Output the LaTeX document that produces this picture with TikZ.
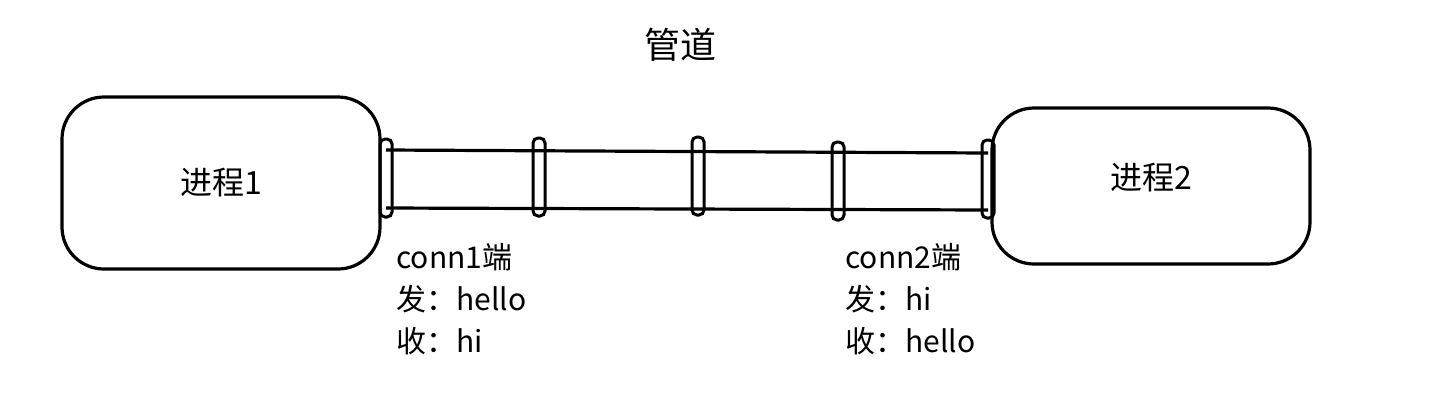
\documentclass[tikz,border=0pt]{standalone}
\usepackage{fontspec}
\setmainfont{Noto Sans CJK SC}
\usetikzlibrary{positioning}
\tikzset{
  procbox/.style={draw,line width=1.6pt,rounded corners=21pt,minimum width=159pt,minimum height=86pt,font=\fontsize{16}{18}\selectfont},
  ringbox/.style={draw,line width=1.5pt,rounded corners=2.5pt,minimum width=6pt,minimum height=39pt,inner sep=0pt},
  pipeline/.style={line width=1.6pt},
  endlabel/.style={anchor=north west,align=left,inner sep=0pt,font=\fontsize{15}{21}\selectfont}
}
\begin{document}
\begin{tikzpicture}[x=0.5pt,y=-0.5pt]
\useasboundingbox (0,0) rectangle (1430,414);

\node (title) at (680,45) {\fontsize{18}{20}\selectfont 管道};

% processes
\node[procbox] (p1) at (221,183) {进程1};
\node[procbox,minimum height=78pt,text depth=10pt] (p2) at (1151,186) {进程2};

% pipe rings
\foreach \x/\y/\i in {386/178/1,539/177/2,698/176/3,838/181/4,988/179/5}
  \node[ringbox] (ring\i) at (\x,\y) {};

% pipe walls
\coordinate (t1) at (386,150);
\coordinate (t5) at (988,153);
\coordinate (b1) at (386,208);
\coordinate (b5) at (988,210);
\draw[pipeline] (t1) -- (t5);
\draw[pipeline] (b1) -- (b5);

% end labels
\node[endlabel] (c1) at (396,243) {conn1端\\发：hello\\收：hi};
\node[endlabel] (c2) at (845,243) {conn2端\\发：hi\\收：hello};

\end{tikzpicture}
\end{document}
